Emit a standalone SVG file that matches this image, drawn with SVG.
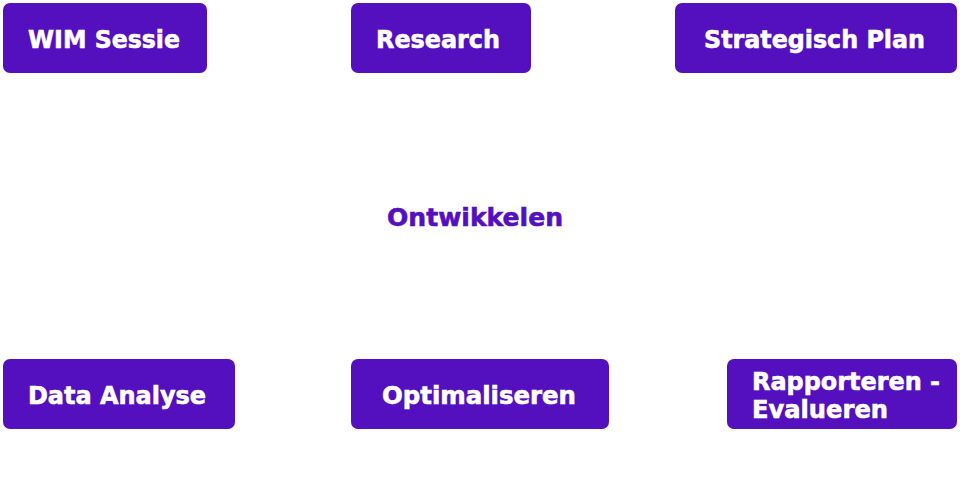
<svg xmlns="http://www.w3.org/2000/svg" width="960" height="493" viewBox="0 0 960 493">
<style>
.box{fill:#5410bf}
.t{font-family:"DejaVu Sans","Liberation Sans",sans-serif;font-weight:bold;font-size:25px;fill:#ffffff;stroke:#ffffff;stroke-width:0.6}
.c{fill:#5410bf;stroke:#5410bf}
</style>
<rect width="960" height="493" fill="#ffffff"/>
<g id="connectors"></g>
<g id="wim"><rect class="box" x="3" y="3" width="204" height="70" rx="7"/><text class="t" x="28" y="48" textLength="152" lengthAdjust="spacingAndGlyphs">WIM Sessie</text></g>
<g id="research"><rect class="box" x="351" y="3" width="180" height="70" rx="7"/><text class="t" x="376" y="48" textLength="124" lengthAdjust="spacingAndGlyphs">Research</text></g>
<g id="plan"><rect class="box" x="675" y="3" width="282" height="70" rx="7"/><text class="t" x="704" y="48" textLength="221" lengthAdjust="spacingAndGlyphs">Strategisch Plan</text></g>
<g id="ontwikkelen"><text class="t c" x="387" y="226" textLength="176" lengthAdjust="spacingAndGlyphs">Ontwikkelen</text></g>
<g id="data"><rect class="box" x="3" y="359" width="232" height="70" rx="7"/><text class="t" x="28" y="404" textLength="178" lengthAdjust="spacingAndGlyphs">Data Analyse</text></g>
<g id="optimaliseren"><rect class="box" x="351" y="359" width="258" height="70" rx="7"/><text class="t" x="382" y="404" textLength="194" lengthAdjust="spacingAndGlyphs">Optimaliseren</text></g>
<g id="rapporteren"><rect class="box" x="727" y="359" width="230" height="70" rx="7"/><text class="t" x="752" y="390" textLength="188" lengthAdjust="spacingAndGlyphs">Rapporteren -</text><text class="t" x="752" y="418" textLength="136" lengthAdjust="spacingAndGlyphs">Evalueren</text></g>
</svg>
